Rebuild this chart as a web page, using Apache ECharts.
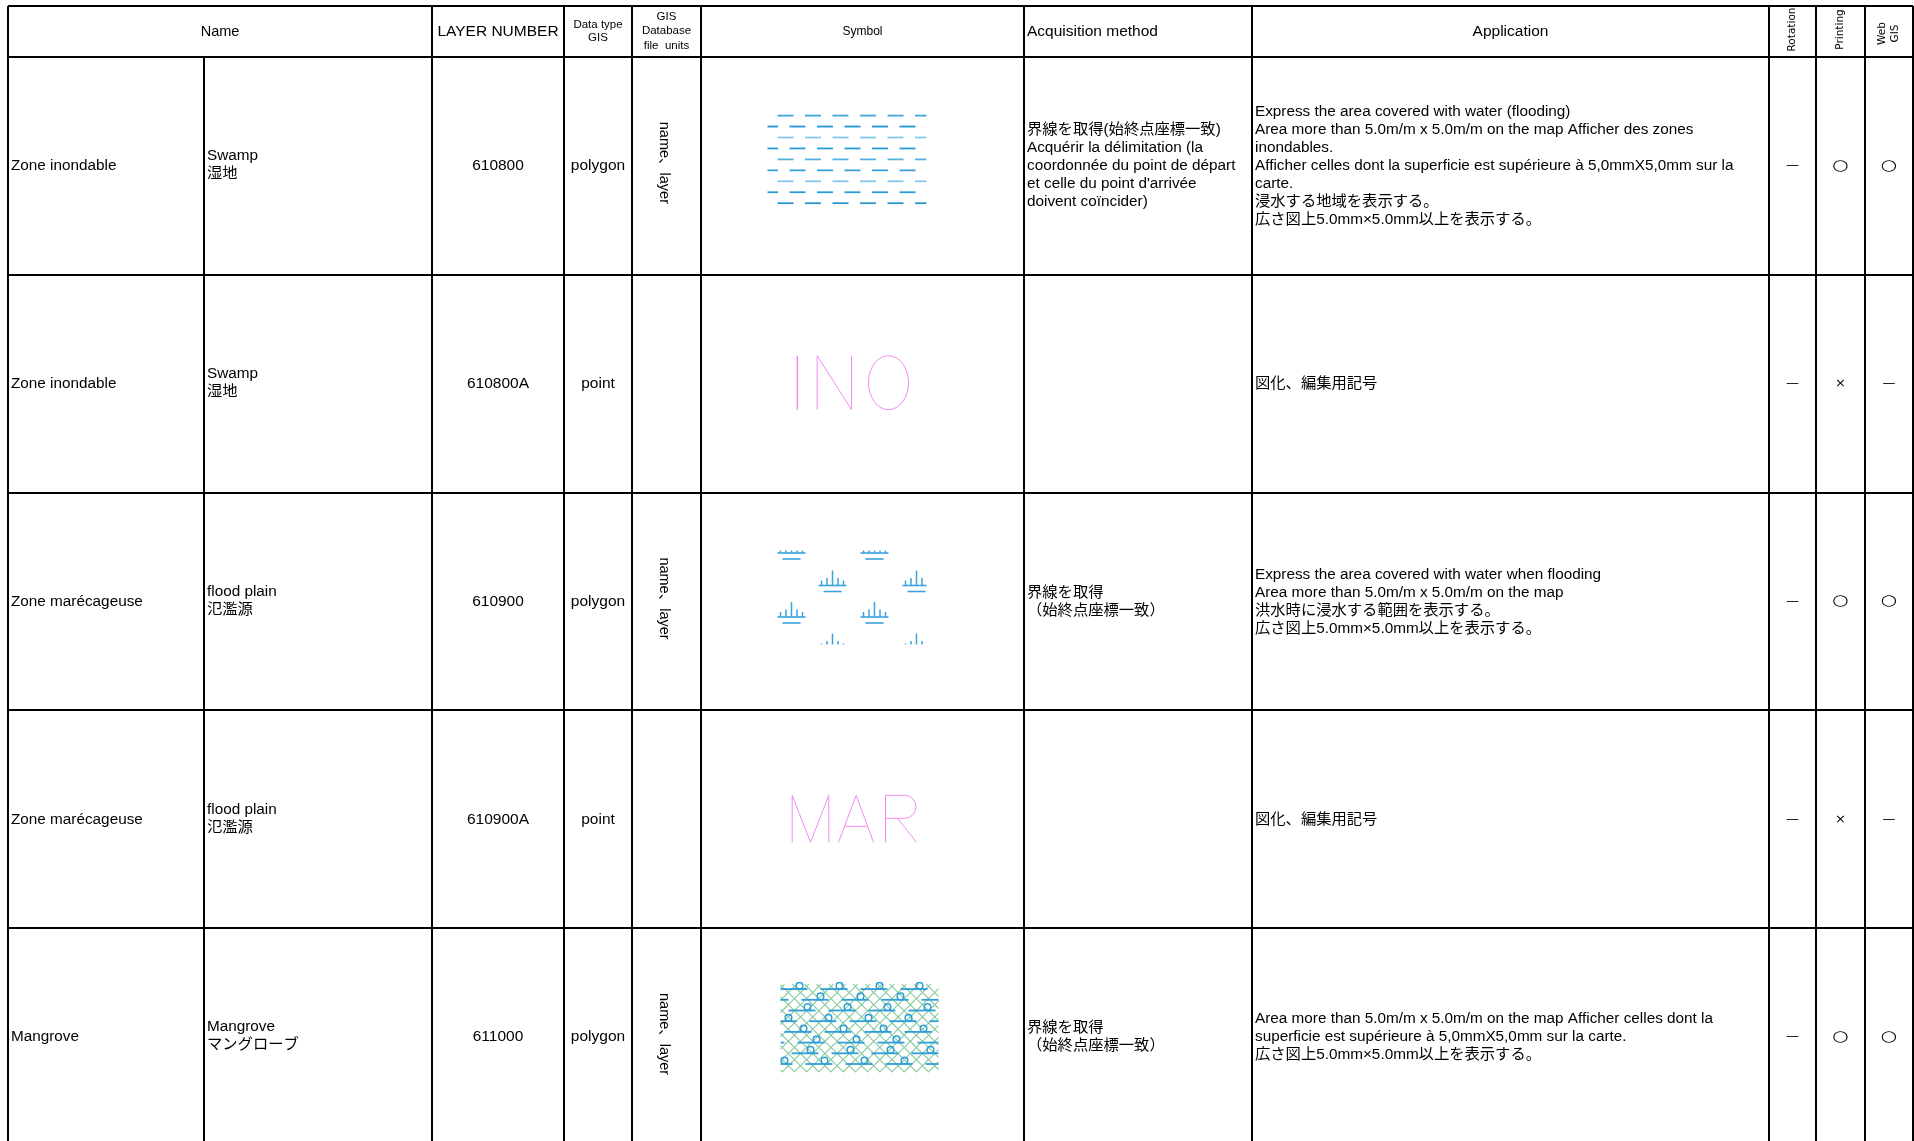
<!DOCTYPE html>
<html><head><meta charset="utf-8">
<script src="https://cdn.jsdelivr.net/npm/echarts@6/dist/echarts.min.js"></script>
<style>html,body{margin:0;padding:0;background:#fff;overflow:hidden}#c{width:1914px;height:1141px}</style>
</head><body><div id="c"></div>
<script>
// ---------- DATA ----------
const headers = ['Name', 'LAYER NUMBER', 'Data type\nGIS', 'GIS\nDatabase\nfile  units', 'Symbol', 'Acquisition method', 'Application', 'Rotation', 'Printing', 'Web\nGIS'];
const featureNames = ['Zone inondable', 'Zone inondable', 'Zone marécageuse', 'Zone marécageuse', 'Mangrove'];
const subNames = ['Swamp\n湿地', 'Swamp\n湿地', 'flood plain\n氾濫源', 'flood plain\n氾濫源', 'Mangrove\nマングローブ'];
const layerNumbers = ['610800', '610800A', '610900', '610900A', '611000'];
const dataTypes = ['polygon', 'point', 'polygon', 'point', 'polygon'];
const dbUnits = ['name、layer', '', 'name、layer', '', 'name、layer'];
const symbolKinds = ['swamp', 'INO', 'flood', 'MAR', 'mangrove'];
const acquisition = [
  '界線を取得(始終点座標一致)\nAcquérir la délimitation (la\ncoordonnée du point de départ\net celle du point d\'arrivée\ndoivent coïncider)',
  '',
  '界線を取得\n（始終点座標一致）',
  '',
  '界線を取得\n（始終点座標一致）'
];
const application = [
  'Express the area covered with water (flooding)\nArea more than 5.0m/m x 5.0m/m on the map Afficher des zones\ninondables.\nAfficher celles dont la superficie est supérieure à 5,0mmX5,0mm sur la\ncarte.\n浸水する地域を表示する。\n広さ図上5.0mm×5.0mm以上を表示する。',
  '図化、編集用記号',
  'Express the area covered with water when flooding\nArea more than 5.0m/m x 5.0m/m on the map\n洪水時に浸水する範囲を表示する。\n広さ図上5.0mm×5.0mm以上を表示する。',
  '図化、編集用記号',
  'Area more than 5.0m/m x 5.0m/m on the map Afficher celles dont la\nsuperficie est supérieure à 5,0mmX5,0mm sur la carte.\n広さ図上5.0mm×5.0mm以上を表示する。'
];
const rotationMarks = ['—', '—', '—', '—', '—'];
const printingMarks = ['○', '×', '○', '×', '○'];
const webGISMarks = ['○', '—', '○', '—', '○'];

// ---------- LAYOUT ----------
const W = 1914, H = 1141;
const colX = [8, 204, 432, 564, 632, 701, 1024, 1252, 1769, 1816, 1865, 1913];
const topY = 6, headY = 57, rowH = 217.8;
const FONT = "'Liberation Sans','Noto Sans CJK JP',sans-serif";
const MARKFONT = "'DejaVu Sans','Noto Sans CJK JP',sans-serif";
const BODY = 15.3, LH = 18;

function mkLine(P, x1, y1, x2, y2, color, w) {
  const a = P(x1, y1), b = P(x2, y2);
  return { type: 'line', shape: { x1: a[0], y1: a[1], x2: b[0], y2: b[1] }, style: { stroke: color, lineWidth: w } };
}
function mkText(P, x, y, text, opt) {
  const p = P(x, y);
  return {
    type: 'text', x: p[0], y: p[1], rotation: opt.rotation || 0, scaleX: opt.scaleX || 1,
    style: {
      text: text, fill: opt.color || '#000', fontSize: opt.size || BODY,
      fontFamily: opt.family || FONT, align: opt.align || 'center',
      verticalAlign: 'middle', lineHeight: opt.lh || LH
    }
  };
}
function mkPoly(P, pts, color, w) {
  return { type: 'polyline', shape: { points: pts.map(q => P(q[0], q[1])) }, style: { stroke: color, lineWidth: w, fill: null } };
}
function mkPath(d, color, w) {
  return { type: 'path', shape: { pathData: d }, style: { stroke: color, lineWidth: w, fill: null } };
}

// ---------- SYMBOLS ----------
function symSwamp(P, cx, cy) {
  const x0 = cx - 95, x1 = cx + 64, y0 = cy - 50.3;
  const cols = ['#3ea5dd', '#2196d8', '#84c8eb', '#2a9bd9', '#55b0e0', '#3aa2dc', '#84c8eb', '#2a9bd9', '#2f95cf'];
  const out = [];
  for (let i = 0; i < 9; i++) {
    const y = y0 + i * 10.95;
    const start = i % 2 === 0 ? x0 + 10 : x0 - 5.5;
    for (let s = start; s < x1; s += 27.5) {
      const a = Math.max(s, x0), b = Math.min(s + 16, x1);
      if (b - a > 1) out.push(mkLine(P, a, y, b, y, cols[i], 1.8));
    }
  }
  return out;
}
function symFlood(P, cx, cy) {
  const cT = cy - 51, cB = cy + 43, cR = cx + 64;
  const col = '#3aa2dc';
  const bases = [-48.5, -16, 15.5, 47];
  const lefts = [[-85, -2], [-44, 40]];
  const ticks = [[3, 5], [8.5, 7.5], [14, 15], [19.5, 7.5], [25, 5]];
  const out = [];
  bases.forEach((by, r) => {
    const yb = cy + by;
    lefts[r % 2].forEach(dx => {
      const xl = cx + dx;
      if (yb >= cT && yb <= cB) out.push(mkLine(P, xl, yb, Math.min(xl + 28, cR), yb, col, 1.6));
      const y2 = yb + 6;
      if (y2 >= cT && y2 <= cB) out.push(mkLine(P, xl + 5, y2, Math.min(xl + 23, cR), y2, col, 1.6));
      ticks.forEach(t => {
        const tx = xl + t[0];
        if (tx > cR) return;
        const top = Math.max(yb - t[1], cT), bot = Math.min(yb, cB);
        if (bot - top > 0.5) out.push(mkLine(P, tx, top, tx, bot, col, 1.5));
      });
    });
  });
  return out;
}
function symMangrove(P, cx, cy) {
  const x0 = cx - 82, x1 = cx + 76, y0 = cy - 53, y1 = cy + 35;
  const out = [];
  const g = '#86c99c';
  const s = 12.2;
  for (let k = y0 - x1; k <= y1 - x0; k += s) {
    const xa = Math.max(x0, y0 - k), xb = Math.min(x1, y1 - k);
    if (xb > xa) out.push(mkLine(P, xa, xa + k, xb, xb + k, g, 1.1));
  }
  for (let k = x0 + y0 + 4; k <= x1 + y1; k += s) {
    const xa = Math.max(x0, k - y1), xb = Math.min(x1, k - y0);
    if (xb > xa) out.push(mkLine(P, xa, k - xa, xb, k - xb, g, 1.1));
  }
  const b = '#2e9ed8';
  const offs = [0, 21, 8, 29, 4, 17, 11, 25];
  for (let j = 0; j < 8; j++) {
    const y = y0 + 5 + j * 10.7;
    for (let st = x0 - 40 + offs[j]; st < x1; st += 40) {
      const a = Math.max(st, x0), e = Math.min(st + 27, x1);
      if (e - a > 1) out.push(mkLine(P, a, y, e, y, b, 1.8));
      const ccx = st + 19;
      if (ccx > x0 + 3 && ccx < x1 - 3) {
        const c = P(ccx, y - 3.4);
        out.push({ type: 'circle', shape: { cx: c[0], cy: c[1], r: 3.3 }, style: { stroke: b, lineWidth: 1.5, fill: null } });
      }
    }
  }
  return out;
}
function symINO(P, cx, cy) {
  const col = '#f48af4', w = 1;
  const out = [];
  out.push(mkLine(P, cx - 65.3, cy - 28, cx - 65.3, cy + 26, '#e85ae8', w));
  out.push(mkPoly(P, [[cx - 45.3, cy + 26], [cx - 45.3, cy - 28], [cx - 11, cy + 26], [cx - 11, cy - 28]], col, w));
  const c = P(cx + 26, cy - 1);
  const rx = 20, ry = 27;
  out.push(mkPath('M' + (c[0] - rx) + ' ' + c[1] + ' A' + rx + ' ' + ry + ' 0 1 0 ' + (c[0] + rx) + ' ' + c[1] + ' A' + rx + ' ' + ry + ' 0 1 0 ' + (c[0] - rx) + ' ' + c[1] + ' Z', col, w));
  return out;
}
function symMAR(P, cx, cy) {
  const col = '#f48af4', w = 1;
  const out = [];
  const t = cy - 24, bt = cy + 23;
  out.push(mkPoly(P, [[cx - 70.3, bt], [cx - 70.3, t], [cx - 52, bt], [cx - 33.7, t], [cx - 33.7, bt]], col, w));
  out.push(mkPoly(P, [[cx - 24, bt], [cx - 6.3, t], [cx + 11, bt]], col, w));
  out.push(mkLine(P, cx - 18, cy + 7, cx + 5, cy + 7, col, w));
  const a = P(cx + 23, bt), b = P(cx + 23, t), c = P(cx + 42, t), d = P(cx + 42, cy - 1), e = P(cx + 23, cy - 1);
  const r = 11.5;
  out.push(mkPath('M' + a[0] + ' ' + a[1] + ' L' + b[0] + ' ' + b[1] + ' L' + c[0] + ' ' + c[1] + ' A' + r + ' ' + r + ' 0 0 1 ' + d[0] + ' ' + d[1] + ' L' + e[0] + ' ' + e[1], col, w));
  out.push(mkLine(P, cx + 35, cy - 1, cx + 54, bt, col, w));
  return out;
}
const symbolDrawers = { swamp: symSwamp, flood: symFlood, mangrove: symMangrove, INO: symINO, MAR: symMAR };

// ---------- RENDER ----------
function renderFrame(params, api) {
  const P = (x, y) => api.coord([x, y]);
  const ch = [];
  const nRows = featureNames.length;
  const bottom = headY + rowH * nRows;
  ch.push(mkLine(P, colX[0], topY, colX[colX.length - 1], topY, '#000', 2));
  for (let r = 0; r <= nRows; r++) {
    const y = Math.round(headY + rowH * r);
    ch.push(mkLine(P, colX[0], y, colX[colX.length - 1], y, '#000', 2));
  }
  colX.forEach((x, i) => {
    ch.push(mkLine(P, x, i === 1 ? headY : topY, x, bottom, '#000', 2));
  });
  const hy = (topY + headY) / 2;
  const cc = i => (colX[i] + colX[i + 1]) / 2;
  ch.push(mkText(P, (colX[0] + colX[2]) / 2, hy, headers[0], { size: 14.5 }));
  ch.push(mkText(P, cc(2), hy, headers[1], { size: 15.5 }));
  ch.push(mkText(P, cc(3), hy, headers[2], { size: 11.5, lh: 12.5 }));
  ch.push(mkText(P, cc(4), hy - 0.5, headers[3], { size: 11.5, lh: 14.5 }));
  ch.push(mkText(P, cc(5), hy, headers[4], { size: 12 }));
  ch.push(mkText(P, colX[6] + 3, hy, headers[5], { size: 15.5, align: 'left' }));
  ch.push(mkText(P, cc(7), hy, headers[6], { size: 15.5 }));
  ch.push(mkText(P, cc(8), hy - 2, headers[7], { size: 10.5, rotation: Math.PI / 2, family: "'DejaVu Sans',sans-serif" }));
  ch.push(mkText(P, cc(9), hy - 2, headers[8], { size: 10.5, rotation: Math.PI / 2, family: "'DejaVu Sans',sans-serif" }));
  ch.push(mkText(P, cc(10), hy + 2, headers[9], { size: 10.5, lh: 12.5, rotation: Math.PI / 2, family: "'DejaVu Sans',sans-serif" }));
  return { type: 'group', children: ch };
}
function renderRow(params, api) {
  const P = (x, y) => api.coord([x, y]);
  const r = api.value(0);
  const cy = headY + rowH * r + rowH / 2;
  const cc = i => (colX[i] + colX[i + 1]) / 2;
  const ch = [];
  ch.push(mkText(P, colX[0] + 3, cy, featureNames[r], { align: 'left' }));
  ch.push(mkText(P, colX[1] + 3, cy - 1, subNames[r], { align: 'left' }));
  ch.push(mkText(P, cc(2), cy, layerNumbers[r], { size: 15.5 }));
  ch.push(mkText(P, cc(3), cy, dataTypes[r], { size: 15.5 }));
  if (dbUnits[r]) ch.push(mkText(P, cc(4) - 3, cy - 3, dbUnits[r], { size: 14.5, rotation: -Math.PI / 2 }));
  ch.push.apply(ch, symbolDrawers[symbolKinds[r]](P, cc(5), cy));
  if (acquisition[r]) ch.push(mkText(P, colX[6] + 3, cy, acquisition[r], { align: 'left' }));
  ch.push(mkText(P, colX[7] + 3, cy, application[r], { align: 'left' }));
  const mark = (i, m) => {
    if (m === '○') return mkText(P, cc(i), cy, m, { size: 15, scaleX: 1.25, family: MARKFONT });
    if (m === '×') return mkText(P, cc(i), cy, m, { size: 13, family: MARKFONT });
    return mkText(P, cc(i), cy, m, { size: 13, family: MARKFONT });
  };
  ch.push(mark(8, rotationMarks[r]));
  ch.push(mark(9, printingMarks[r]));
  ch.push(mark(10, webGISMarks[r]));
  return { type: 'group', children: ch };
}

const chart = echarts.init(document.getElementById('c'), null, { renderer: 'canvas' });
chart.setOption({
  animation: false,
  backgroundColor: '#fff',
  grid: { left: 0, right: 0, top: 0, bottom: 0 },
  xAxis: { type: 'value', min: 0, max: W, show: false },
  yAxis: { type: 'value', min: 0, max: H, inverse: true, show: false },
  series: [
    { type: 'custom', renderItem: renderFrame, data: [[0]], clip: false, silent: true },
    { type: 'custom', renderItem: renderRow, data: featureNames.map((_, i) => [i]), clip: false, silent: true }
  ]
});
</script></body></html>
